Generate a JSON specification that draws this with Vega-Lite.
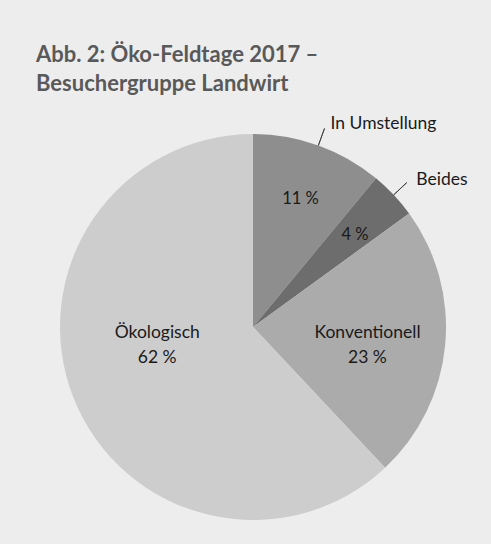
{
  "$schema": "https://vega.github.io/schema/vega-lite/v6.json",
  "autosize": {"type": "none"},
  "width": 386,
  "height": 386,
  "padding": {"left": 60, "top": 134, "right": 45, "bottom": 24},
  "background": "#ededed",
  "config": {"view": {"stroke": null}, "text": {"font": "Lato"}},
  "title": {
    "text": ["Abb. 2: Öko-Feldtage 2017 –", "Besuchergruppe Landwirt"],
    "anchor": "start",
    "frame": "group",
    "font": "Lato",
    "fontSize": 22,
    "fontWeight": "bold",
    "color": "#595959",
    "lineHeight": 29,
    "baseline": "alphabetic",
    "offset": 2,
    "dx": -24
  },
  "data": {
    "values": [
      {"category": "In Umstellung", "pct": 11, "rank": 1, "pctText": "11 %", "label": "In Umstellung\n11 %"},
      {"category": "Beides", "pct": 4, "rank": 2, "pctText": "4 %", "label": "Beides\n4 %"},
      {"category": "Konventionell", "pct": 23, "rank": 3, "pctText": "23 %", "label": "Konventionell\n23 %"},
      {"category": "Ökologisch", "pct": 62, "rank": 4, "pctText": "62 %", "label": "Ökologisch\n62 %"}
    ]
  },
  "encoding": {
    "theta": {"field": "pct", "type": "quantitative", "stack": true},
    "order": {"field": "rank", "type": "quantitative"}
  },
  "layer": [
    {
      "mark": {"type": "arc", "radius": 193},
      "encoding": {
        "color": {
          "field": "category",
          "type": "nominal",
          "scale": {
            "domain": ["In Umstellung", "Beides", "Konventionell", "Ökologisch"],
            "range": ["#8e8e8e", "#6d6d6d", "#ababab", "#cdcdcd"]
          },
          "legend": null
        }
      }
    },
    {
      "mark": {"type": "arc", "radius": 193, "radius2": 211, "padAngle": 1.5, "fill": null, "stroke": "#333333", "strokeWidth": 0.8},
      "encoding": {
        "strokeOpacity": {
          "condition": {"test": "datum.category === 'In Umstellung' || datum.category === 'Beides'", "value": 1},
          "value": 0
        }
      }
    },
    {
      "mark": {"type": "text", "radius": 220, "align": "left", "baseline": "middle", "fontSize": 17.5, "color": "#1a1a1a", "dx": 3, "dy": 4},
      "encoding": {
        "text": {
          "condition": {"test": "datum.category === 'In Umstellung' || datum.category === 'Beides'", "field": "category"},
          "value": ""
        }
      }
    },
    {
      "mark": {"type": "text", "radius": 140, "align": "center", "baseline": "middle", "fontSize": 16.5, "color": "#1a1a1a", "dy": 4},
      "encoding": {
        "text": {
          "condition": {"test": "datum.category === 'In Umstellung' || datum.category === 'Beides'", "field": "pctText"},
          "value": ""
        }
      }
    },
    {
      "mark": {"type": "text", "radius": 115, "align": "center", "baseline": "middle", "fontSize": 17.5, "lineHeight": 25, "lineBreak": "\n", "color": "#1a1a1a", "dy": -5},
      "encoding": {
        "text": {
          "condition": {"test": "datum.category === 'Konventionell'", "field": "label"},
          "value": ""
        }
      }
    },
    {
      "mark": {"type": "text", "radius": 103, "align": "center", "baseline": "middle", "fontSize": 17.5, "lineHeight": 25, "lineBreak": "\n", "color": "#1a1a1a", "dy": -32},
      "encoding": {
        "text": {
          "condition": {"test": "datum.category === 'Ökologisch'", "field": "label"},
          "value": ""
        }
      }
    }
  ]
}
